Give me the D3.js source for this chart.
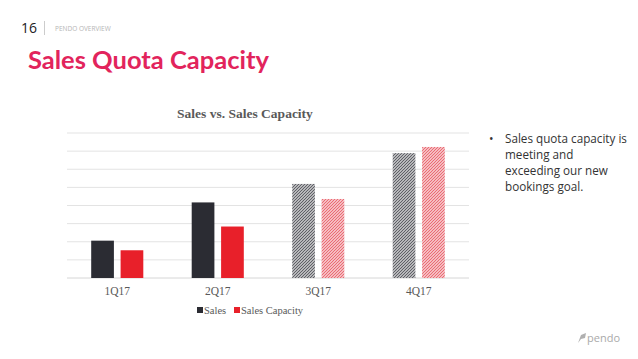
<!DOCTYPE html>
<html><head><meta charset="utf-8">
<script src="https://cdn.jsdelivr.net/npm/d3@7"></script>
<style>body{margin:0;background:#fff}svg{display:block}</style>
</head><body>
<script>
const categories = ["1Q17","2Q17","3Q17","4Q17"];
const seriesNames = ["Sales","Sales Capacity"];
const sales = [2.06, 4.17, 5.19, 6.89];
const capacity = [1.53, 2.84, 4.36, 7.23];
const projected = [false, false, true, true];
const gridTicks = [0,1,2,3,4,5,6,7,8];
const bullets = ["Sales quota capacity is","meeting and","exceeding our new","bookings goal."];

const W=638,H=359;
const svg=d3.select("body").append("svg").attr("width",W).attr("height",H);
const defs=svg.append("defs");
function hatch(id,color){
  const p=defs.append("pattern").attr("id",id).attr("patternUnits","userSpaceOnUse")
    .attr("width",3).attr("height",3);
  p.append("rect").attr("width",3).attr("height",3).attr("fill","#fff");
  p.append("path").attr("d","M-1,1 L1,-1 M0,3 L3,0 M2,4 L4,2").attr("stroke",color).attr("stroke-width",1.3);
}
hatch("hs","#5f6066");
hatch("hc","#ea6b74");

// header
svg.append("text").attr("x",21).attr("y",33).attr("font-family","Open Sans, sans-serif").attr("font-size",14).attr("fill","#222").text("16");
svg.append("line").attr("x1",44.5).attr("x2",44.5).attr("y1",21).attr("y2",35).attr("stroke","#ccc");
svg.append("text").attr("x",55).attr("y",31).attr("font-family","Open Sans, sans-serif").attr("font-size",6.5).attr("fill","#b5b5b5").text("PENDO OVERVIEW");
svg.append("text").attr("x",28).attr("y",69).attr("font-family","Lato, sans-serif").attr("font-weight","bold").attr("font-size",25.5).attr("fill","#e2245c").text("Sales Quota Capacity");

// chart
const x=d3.scaleBand().domain(categories).range([67,469]);
const y=d3.scaleLinear().domain([0,8]).range([278,133]);
const barW=22.7, gap=6.7;
svg.append("text").attr("x",245).attr("y",118).attr("text-anchor","middle").attr("font-family","Liberation Serif, serif").attr("font-weight","bold").attr("font-size",13.5).attr("fill","#595959").text("Sales vs. Sales Capacity");

svg.append("g").selectAll("line").data(gridTicks).join("line")
  .attr("x1",67).attr("x2",469).attr("y1",d=>y(d)).attr("y2",d=>y(d))
  .attr("stroke",d=>d===0?"#d6d6d6":"#e3e3e3").attr("stroke-width",1);

const g=svg.append("g");
categories.forEach((c,i)=>{
  const cx=x(c)+x.bandwidth()/2;
  g.append("rect").attr("x",cx-gap/2-barW).attr("width",barW).attr("y",y(sales[i])).attr("height",y(0)-y(sales[i]))
    .attr("fill",projected[i]?"url(#hs)":"#2b2c33");
  g.append("rect").attr("x",cx+gap/2).attr("width",barW).attr("y",y(capacity[i])).attr("height",y(0)-y(capacity[i]))
    .attr("fill",projected[i]?"url(#hc)":"#e8202a");
});

const xAxis=svg.append("g").attr("transform","translate(0,278)").call(d3.axisBottom(x).tickSize(0).tickPadding(9));
xAxis.select(".domain").remove();
xAxis.selectAll("text").attr("font-family","Liberation Serif, serif").attr("font-size",11.5).attr("fill","#595959");

// legend
const leg=svg.append("g");
const legItems=[{n:seriesNames[0],c:"#2b2c33",x:197},{n:seriesNames[1],c:"#e8202a",x:234}];
legItems.forEach(d=>{
  leg.append("rect").attr("x",d.x).attr("y",307).attr("width",6).attr("height",6).attr("fill",d.c);
  leg.append("text").attr("x",d.x+7).attr("y",314).attr("font-family","Liberation Serif, serif").attr("font-size",10.5).attr("fill","#595959").text(d.n);
});

// bullets
svg.append("text").attr("x",489).attr("y",143).attr("font-family","Open Sans, sans-serif").attr("font-size",12).attr("fill","#333").text("•");
svg.append("g").selectAll("text").data(bullets).join("text")
  .attr("x",505).attr("y",(d,i)=>143+i*16).attr("font-family","Open Sans, sans-serif").attr("font-size",11.7).attr("fill","#333").text(d=>d);

// logo
svg.append("path").attr("d","M578,343 L581,335 L586,333 L585,338 L581,339 Z").attr("fill","#b0b0b0");
svg.append("text").attr("x",587).attr("y",342).attr("font-family","Open Sans, sans-serif").attr("font-size",11).attr("fill","#aaa").text("pendo");
</script>
</body></html>
